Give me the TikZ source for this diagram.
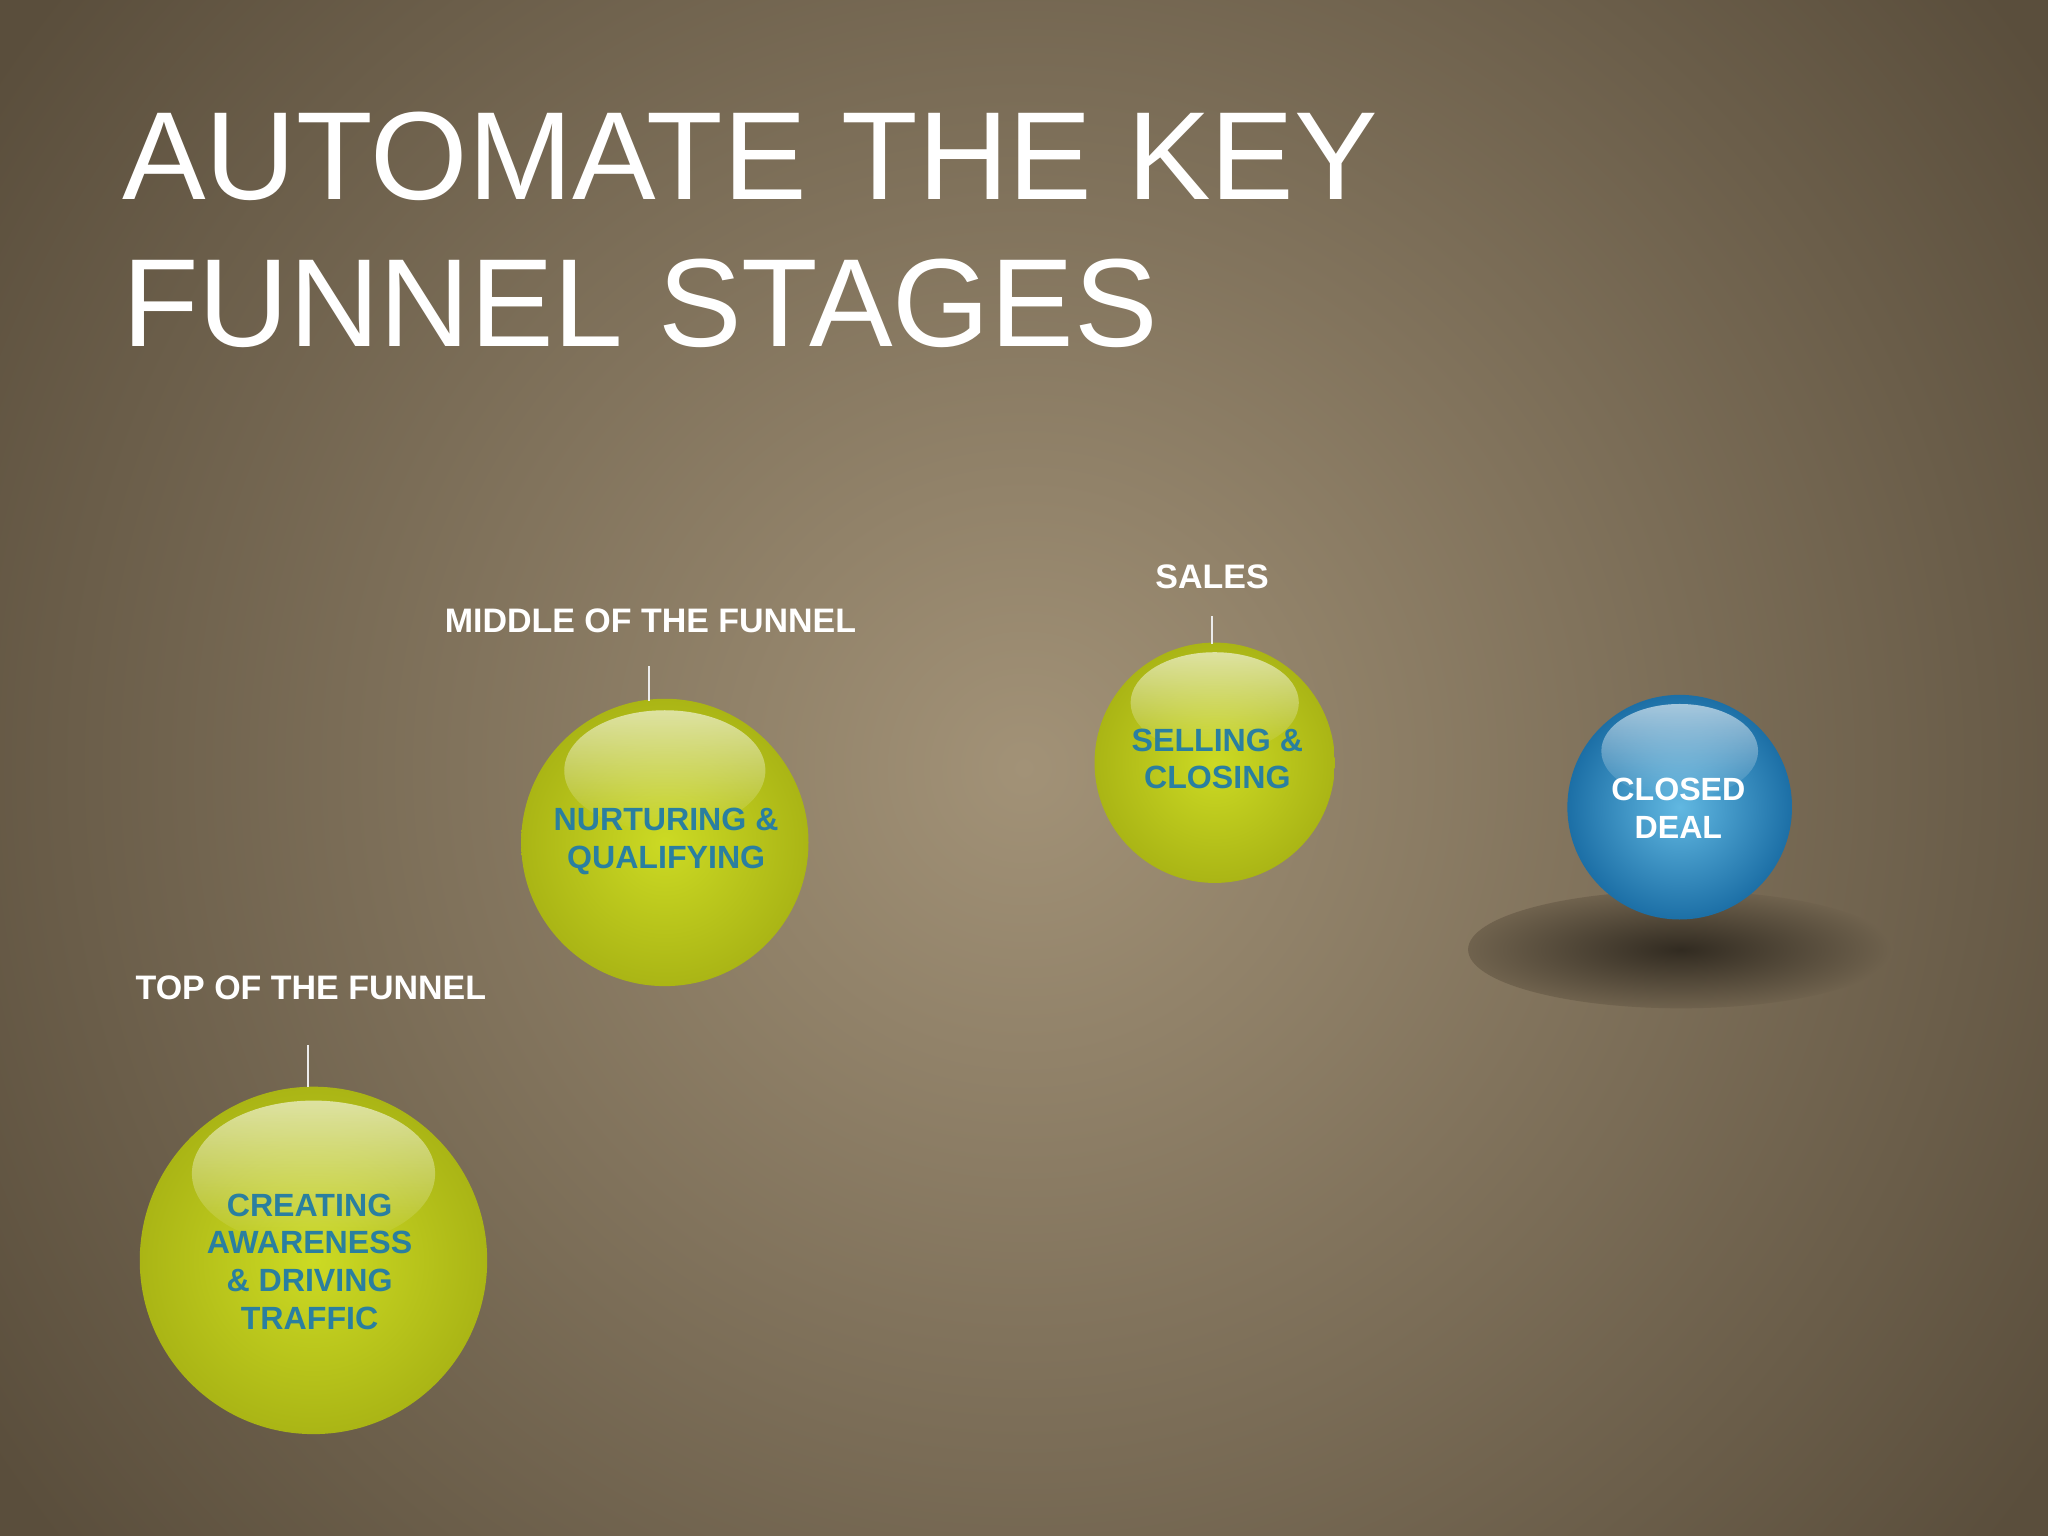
\documentclass[tikz,border=0pt]{standalone}
\usepackage{fontspec}
\setmainfont{Liberation Sans}
\usetikzlibrary{fadings}
\definecolor{bgin}{HTML}{A29277}
\definecolor{bgout}{HTML}{5A4E3C}
\definecolor{lime}{HTML}{CCDA24}
\definecolor{limed}{HTML}{AAB515}
\definecolor{tblue}{HTML}{2A7FA0}
\definecolor{bl}{HTML}{3AA6DA}
\definecolor{bld}{HTML}{1C6FA6}
\tikzset{
  lab/.style={text=white,font=\bfseries\fontsize{7.4}{8.5}\selectfont,align=center},
  intext/.style={text=tblue,font=\bfseries\fontsize{7.0}{8.2}\selectfont,align=center},
  stem/.style={draw=white!85!gray,line width=0.5pt},
}
\newcommand{\gball}[4]{% name, x, y, r
  \shade[inner color=lime, outer color=limed] (#2,#3) circle (#4);
  \fill[white,path fading=south,opacity=0.6] (#2,#3+0.5*#4) ellipse (0.7*#4 and 0.42*#4);
  \node[circle,minimum size=2*#4 cm,inner sep=0pt] (#1) at (#2,#3) {};
}
\begin{document}
\begin{tikzpicture}[x=1cm,y=1cm]
\useasboundingbox (0,0) rectangle (15.68,-11.76);
\fill[bgout] (0,0) rectangle (15.68,-11.76);
\shade[inner color=bgin, outer color=bgout] (7.84,-5.88) circle (9.5);
\node[anchor=west,text=white,font=\fontsize{27.3}{33}\selectfont,inner sep=0pt] (t1) at (0.93,-1.2) {AUTOMATE THE KEY};
\node[anchor=west,text=white,font=\fontsize{27.3}{33}\selectfont,inner sep=0pt] (t2) at (0.93,-2.32) {FUNNEL STAGES};
% shadow
\shade[inner color=black!45!bgout, outer color=bgout!70!bgin] (12.87,-7.27) ellipse (1.63 and 0.45);
\gball{s1}{2.40}{-9.65}{1.33}
\gball{s2}{5.09}{-6.45}{1.10}
\gball{s3}{9.30}{-5.84}{0.92}
% blue
\shade[inner color=bl!80!white, outer color=bld] (12.86,-6.18) circle (0.86);
\fill[white,path fading=south,opacity=0.6] (12.86,-5.75) ellipse (0.6 and 0.36);
\node[circle,minimum size=1.72cm,inner sep=0pt] (s4) at (12.86,-6.18) {};
\node[intext] at (2.37,-9.66) {CREATING\\AWARENESS\\\& DRIVING\\TRAFFIC};
\node[intext] at (5.10,-6.44) {NURTURING \&\\QUALIFYING};
\node[intext] at (9.32,-5.81) {SELLING \&\\CLOSING};
\node[intext,text=white] at (12.85,-6.19) {CLOSED\\DEAL};
\node[lab] (l1) at (2.38,-7.56) {TOP OF THE FUNNEL};
\node[lab] (l2) at (4.98,-4.75) {MIDDLE OF THE FUNNEL};
\node[lab] (l3) at (9.28,-4.42) {SALES};
\draw[stem] (2.36,-8.00) -- (2.36,-8.32);
\draw[stem] (4.97,-5.10) -- (4.97,-5.37);
\draw[stem] (9.28,-4.72) -- (9.28,-4.93);
\end{tikzpicture}
\end{document}
